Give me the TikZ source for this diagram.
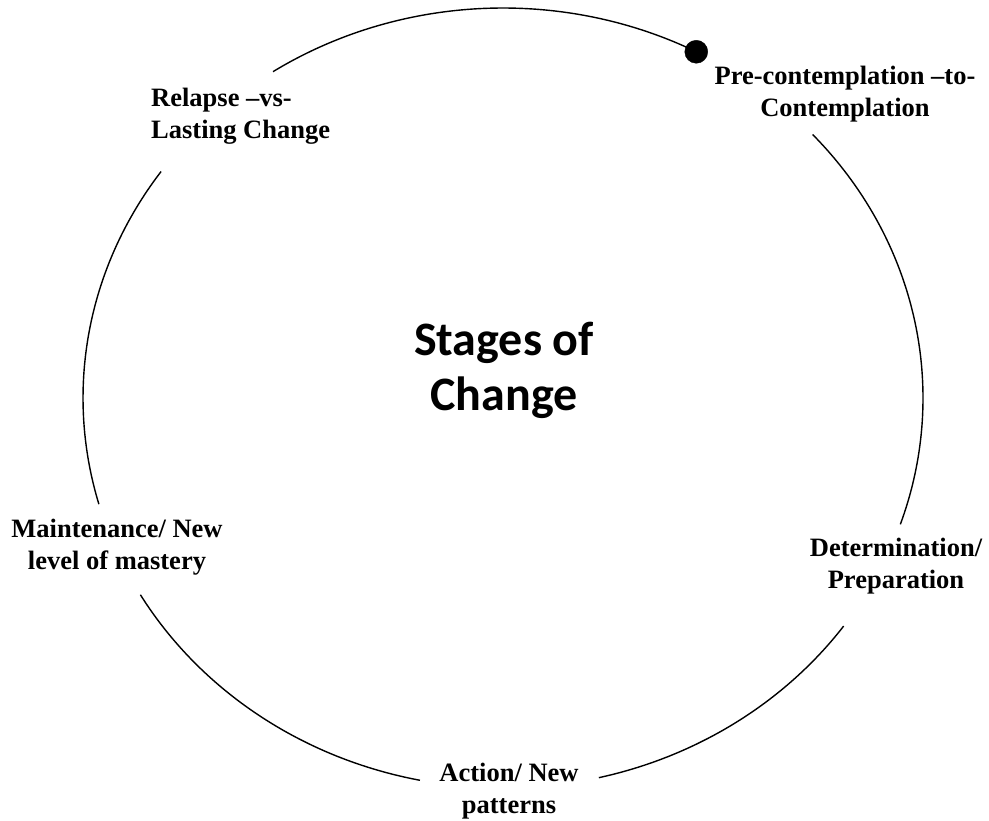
\documentclass[tikz,border=0pt]{standalone}
\usepackage{fontspec}
\setmainfont{Liberation Serif}
\newfontfamily\titlefont{Carlito}
\usetikzlibrary{positioning}
\usetikzlibrary{calc}

\begin{document}
\begin{tikzpicture}[
                x = 1pt,
                y = 1pt,
                stage/.style = {
                    font = \bfseries\fontsize{26.5}{32}\selectfont,
                    align = center,
                    inner sep = 0pt
                },
                title/.style = {
                    font = \titlefont\bfseries\fontsize{48}{55}\selectfont,
                    align = center,
                    inner sep = 0pt
                },
                ring/.style = {line width = 1.4pt, black},
                dot/.style = {
                    draw,
                    circle,
                    fill,
                    minimum size = #1,
                    inner sep = 0pt,
                    outer sep = 0pt
                },
                dot/.default = 23pt
            ]
            \useasboundingbox (0,0) rectangle (989,821);
            \coordinate (hub) at (503,423);
            % 
            \node[title] (title) at (504,451) {Stages of\\Change};
            % 
            \node[stage] (pre) at (845,727) {Pre-contemplation --to-\\Contemplation};
            \node[stage] (det) at (896,255) {Determination/\\Preparation};
            \node[stage] (act) at (509,30) {Action/ New\\patterns};
            \node[stage] (main) at (117,274) {Maintenance/ New\\level of mastery};
            \node[stage, align=left, anchor=west] (rel) at (151,705) {Relapse --vs-\\Lasting Change};
            % 
            % ends of the arcs on the ring
            \coordinate (pre-in)   at ($(hub)+(62.6:420 and 390)$);
            \coordinate (det-in)   at ($(hub)+(-18.9:420 and 390)$);
            \coordinate (act-in)   at ($(hub)+(-76.8:420 and 390)$);
            \coordinate (act-out)  at ($(hub)+(-101.4:420 and 390)$);
            \coordinate (main-out) at ($(hub)+(-164.2:420 and 390)$);
            % 
            \draw[ring] (pre-in) arc[start angle=62.6, end angle=123.2, x radius=420, y radius=390];
            \draw[ring] (det-in) arc[start angle=-18.9, end angle=42.5, x radius=420, y radius=390];
            \draw[ring] (act-in) arc[start angle=-76.8, end angle=-35.8, x radius=420, y radius=390];
            \draw[ring] (act-out) arc[start angle=-101.4, end angle=-149.7, x radius=420, y radius=390];
            \draw[ring] (main-out) arc[start angle=-164.2, end angle=-215.5, x radius=420, y radius=390];
            % 
            \node[dot] (start) at (pre-in) {};
            % 
        \end{tikzpicture}
\end{document}
